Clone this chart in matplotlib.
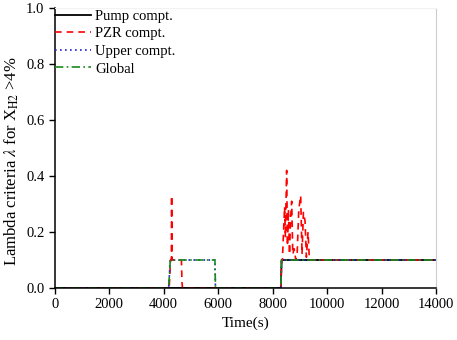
import matplotlib.pyplot as plt

plt.rcParams['font.family'] = ['Liberation Serif', 'DejaVu Serif']
plt.rcParams['mathtext.fontset'] = 'stix'
plt.rcParams['font.size'] = 10

# data
pump_t = [0, 8300, 8330, 14000]
pump_v = [0, 0, 0.1, 0.1]

pzr_t = [0, 4200, 4250, 4280, 4290, 4305, 4320, 4650, 4670, 4690,
         8300, 8330, 8360, 8400, 8440, 8470, 8490, 8515, 8545, 8580, 8620,
         8660, 8700, 8740, 8790, 8850, 8900, 8960, 9030, 9080, 9130,
         9190, 9240, 9300, 9350, 14000]
pzr_v = [0, 0, 0.1, 0.1, 0.33, 0.1, 0.1, 0.1, 0.02, 0,
         0, 0.1, 0.1, 0.2, 0.29, 0.18, 0.3, 0.42, 0.15, 0.28, 0.12,
         0.25, 0.31, 0.12, 0.14, 0.1, 0.12, 0.28, 0.33, 0.12, 0.27,
         0.24, 0.11, 0.2, 0.1, 0.1]

upper_t = [0, 4180, 4240, 5880, 5900, 8300, 8330, 14000]
upper_v = [0, 0, 0.1, 0.1, 0, 0, 0.1, 0.1]

global_t = [0, 4180, 4240, 5880, 5900, 8300, 8330, 14000]
global_v = [0, 0, 0.1, 0.1, 0, 0, 0.1, 0.1]

fig = plt.figure(figsize=(4.57, 3.4), dpi=100)
ax = fig.add_axes([0.120, 0.153, 0.834, 0.823])

ax.plot(pump_t, pump_v, color='black', lw=1.3, label='Pump compt.')
ax.plot(pzr_t, pzr_v, color='red', lw=1.2, ls=(0, (4, 3)), label='PZR compt.')
ax.plot(upper_t, upper_v, color='#2020d0', lw=1.2, ls=(0, (1, 2)), label='Upper compt.')
ax.plot(global_t, global_v, color='#1a8a1a', lw=1.2, ls=(0, (5, 2, 1, 2)), label='Global')

ax.set_xlim(0, 14000)
ax.set_ylim(0, 1.0)
ax.set_xticks(range(0, 14001, 2000))
ax.set_yticks([0, 0.2, 0.4, 0.6, 0.8, 1.0])
ax.set_yticklabels(['0.0', '0.2', '0.4', '0.6', '0.8', '1.0'])
ax.tick_params(direction='out', length=4, width=1, top=False, right=False, labelsize=10.5)

ax.spines['left'].set_linewidth(1.1)
ax.spines['bottom'].set_linewidth(1.1)
ax.spines['right'].set_color('#cccccc')
ax.spines['top'].set_color('#f2f2f2')

ax.set_xlabel('Time(s)', fontsize=11)
ax.set_ylabel(r'Lambda criteria $\lambda$ for X$_{\mathrm{H2}}$ >4%', fontsize=12)
ax.yaxis.set_label_coords(-0.088, 0.455)

ax.legend(loc='upper left', bbox_to_anchor=(0.0, 0.995), frameon=False,
          handlelength=2.5, handletextpad=0.25, labelspacing=0.3,
          borderaxespad=0.0, borderpad=0.0, fontsize=10.5)

plt.savefig('out.png', dpi=100)
